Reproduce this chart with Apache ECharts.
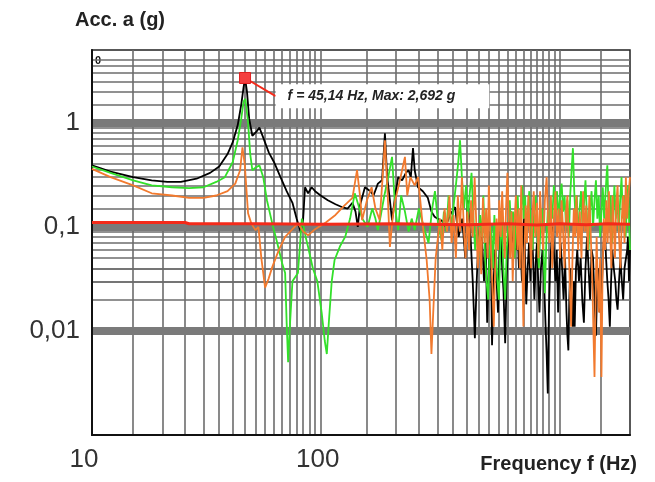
<!DOCTYPE html>
<html>
<head>
<meta charset="utf-8">
<script src="https://cdn.jsdelivr.net/npm/echarts@6/dist/echarts.min.js"></script>
<style>
    html, body { margin: 0; padding: 0; background: #fff; }
    #chart { width: 655px; height: 482px; }
</style>
</head>
<body>
<div id="chart"></div>
<script>
// [frequency Hz, acceleration g]
var blackData = [[10,0.39],[12,0.34],[15,0.3],[18,0.28],[21,0.27],[24,0.27],[28,0.29],[32,0.33],[35,0.38],[38,0.5],[40,0.65],[42,0.95],[43.5,1.5],[44.5,2.2],[45.14,2.69],[46,2.0],[47,1.1],[48.5,0.75],[50.5,0.82],[52,0.9],[54,0.72],[57,0.52],[60,0.42],[64,0.3],[68,0.22],[72,0.17],[75,0.12],[78,0.09],[80,0.12],[81.5,0.24],[84,0.21],[87,0.24],[90,0.22],[95,0.2],[102,0.18],[110,0.165],[117,0.155],[124,0.15],[130,0.17],[134,0.14],[137,0.1],[140,0.16],[147,0.24],[155,0.22],[160,0.2],[167,0.26],[174,0.28],[179,0.79],[183,0.3],[188,0.18],[192,0.115],[198,0.2],[204,0.3],[212,0.28],[220,0.33],[226,0.35],[231,0.3],[236,0.57],[240,0.35],[248,0.24],[260,0.22],[273,0.19],[283,0.14],[292,0.125],
    [300,0.12],[313,0.115],[325,0.1],[340,0.13],[357,0.155],[370,0.08],[383,0.12],[395,0.05],[405,0.18],[415,0.09],[425,0.03],[434,0.0085],[442,0.03],[450,0.08],[460,0.11],[468,0.06],[475,0.03],[483,0.07],[490,0.012],[498,0.04],[507,0.09],[514,0.0073],[522,0.03],[530,0.06],[538,0.03],[545,0.015],[553,0.05],[560,0.09],[568,0.04],[575,0.025],[585,0.0076],[593,0.03],[600,0.06],[610,0.1],[620,0.14],[630,0.07],[640,0.12],[650,0.06],[660,0.1],[670,0.04],[680,0.07],[690,0.03],[698,0.08],[705,0.12],[712,0.05],[720,0.018],[730,0.04],[740,0.07],[750,0.03],[760,0.1],[770,0.05],[780,0.02],[790,0.045],[800,0.07],[810,0.03],[820,0.015],[832,0.04],[845,0.06],[858,0.03],[870,0.012],[880,0.006],[890,0.0025],[900,0.015],[910,0.04],[922,0.07],[935,0.1],[948,0.05],[960,0.03],[972,0.06],[985,0.015],[998,0.04],[1010,0.07],[1025,0.04],[1040,0.02],[1055,0.05],[1070,0.015],[1080,0.009],[1090,0.0065],[1100,0.02],[1110,0.04],[1125,0.02],[1140,0.011],[1150,0.03],[1160,0.011],[1175,0.04],[1190,0.06],[1210,0.03],[1230,0.05],[1250,0.02],[1270,0.012],[1290,0.04],[1310,0.08],[1330,0.04],[1350,0.02],[1370,0.06],[1390,0.05],[1410,0.02],[1430,0.009],[1450,0.03],[1470,0.04],[1490,0.015],[1510,0.02],[1535,0.06],[1560,0.1],[1580,0.05],[1600,0.03],[1620,0.02],[1640,0.011],[1660,0.03],[1680,0.06],[1705,0.04],[1730,0.03],[1750,0.02],[1770,0.016],[1795,0.03],[1820,0.05],[1845,0.03],[1870,0.02],[1895,0.04],[1920,0.04],[1945,0.06],[1960,0.08],[1980,0.03],[2000,0.06]];

var greenData = [[10,0.38],[12,0.33],[15,0.28],[18,0.25],[22,0.24],[26,0.235],[30,0.24],[34,0.27],[37,0.3],[40,0.42],[42,0.68],[43.5,1.1],[44.5,1.6],[45.3,1.7],[46.5,1.0],[47.5,0.5],[48.5,0.35],[50,0.37],[52,0.39],[54,0.3],[56,0.18],[59,0.108],[62,0.07],[65,0.045],[67,0.036],[68,0.012],[69,0.005],[70,0.01],[72,0.03],[76,0.036],[78,0.08],[79,0.12],[82,0.08],[84,0.064],[88,0.04],[92,0.03],[96,0.015],[99,0.008],[101,0.006],[103,0.012],[106,0.03],[109,0.048],[115,0.065],[121,0.08],[127,0.12],[133,0.21],[138,0.16],[143,0.12],[151,0.1],[158,0.15],[163,0.12],[167,0.093],[172,0.13],[178,0.2],[185,0.3],[192,0.47],[198,0.15],[204,0.093],[210,0.2],[218,0.14],[226,0.09],[233,0.12],[240,0.093],[250,0.15],[262,0.1],[275,0.07],[285,0.15],[293,0.22],
    [303,0.1],[313,0.074],[320,0.14],[328,0.09],[335,0.2],[343,0.1],[352,0.16],[360,0.25],[368,0.4],[375,0.68],[382,0.3],[390,0.15],[398,0.25],[405,0.12],[412,0.2],[420,0.33],[428,0.12],[435,0.06],[442,0.1],[450,0.05],[457,0.13],[465,0.08],[472,0.2],[480,0.05],[487,0.03],[495,0.02],[502,0.06],[510,0.1],[518,0.04],[526,0.13],[534,0.06],[542,0.03],[550,0.02],[558,0.07],[566,0.12],[575,0.04],[585,0.02],[594,0.06],[603,0.1],[612,0.18],[622,0.08],[632,0.14],[642,0.05],[652,0.11],[662,0.2],[672,0.07],[682,0.14],[692,0.25],[702,0.12],[712,0.2],[722,0.08],[732,0.15],[742,0.22],[754,0.1],[766,0.06],[778,0.14],[790,0.2],[802,0.09],[815,0.04],[828,0.1],[842,0.15],[855,0.05],[865,0.023],[877,0.07],[890,0.14],[903,0.09],[916,0.18],[930,0.12],[945,0.25],[960,0.15],[975,0.22],[990,0.12],[1005,0.2],[1020,0.26],[1035,0.14],[1050,0.2],[1065,0.1],[1080,0.18],[1095,0.08],[1110,0.2],[1125,0.35],[1140,0.57],[1155,0.22],[1170,0.12],[1185,0.2],[1200,0.07],[1218,0.15],[1235,0.22],[1252,0.1],[1270,0.16],[1290,0.28],[1310,0.12],[1330,0.06],[1350,0.15],[1370,0.22],[1390,0.1],[1410,0.18],[1430,0.28],[1450,0.12],[1470,0.2],[1490,0.08],[1510,0.14],[1530,0.24],[1550,0.12],[1570,0.2],[1590,0.33],[1600,0.39],[1615,0.18],[1635,0.1],[1655,0.2],[1675,0.07],[1695,0.13],[1715,0.25],[1740,0.12],[1765,0.2],[1790,0.09],[1815,0.18],[1840,0.3],[1865,0.12],[1890,0.2],[1915,0.08],[1940,0.16],[1965,0.25],[1985,0.1],[2000,0.06]];

var orangeData = [[10,0.36],[12,0.3],[15,0.25],[18,0.21],[22,0.2],[26,0.19],[30,0.19],[34,0.2],[38,0.22],[41,0.26],[43,0.35],[44,0.58],[45,0.4],[46.5,0.135],[48,0.108],[50,0.093],[51.5,0.1],[53,0.05],[55,0.026],[57,0.032],[59,0.041],[63,0.06],[67,0.08],[72,0.095],[76,0.108],[80,0.09],[84,0.083],[90,0.095],[100,0.11],[110,0.13],[120,0.16],[130,0.19],[136,0.35],[140,0.2],[143,0.116],[150,0.18],[157,0.24],[163,0.15],[170,0.116],[175,0.3],[179,0.68],[184,0.2],[188,0.064],[193,0.12],[197,0.17],[205,0.25],[212,0.35],[218,0.47],[223,0.2],[230,0.3],[240,0.25],[248,0.3],[258,0.12],[270,0.048],[278,0.02],[283,0.006],[288,0.015],[295,0.05],
    [300,0.07],[308,0.12],[315,0.06],[322,0.15],[330,0.09],[338,0.2],[345,0.07],[352,0.13],[360,0.05],[367,0.2],[375,0.09],[382,0.3],[389,0.1],[396,0.05],[403,0.14],[410,0.06],[418,0.18],[425,0.08],[433,0.3],[440,0.11],[447,0.04],[455,0.1],[462,0.035],[470,0.19],[478,0.07],[485,0.15],[492,0.05],[498,0.25],[505,0.09],[512,0.04],[518,0.02],[523,0.011],[530,0.04],[537,0.12],[545,0.06],[552,0.18],[560,0.08],[568,0.22],[575,0.1],[583,0.05],[590,0.15],[598,0.33],[606,0.12],[614,0.05],[622,0.14],[630,0.03],[640,0.1],[650,0.2],[660,0.06],[668,0.15],[676,0.04],[685,0.25],[692,0.05],[700,0.011],[708,0.06],[716,0.16],[725,0.07],[735,0.2],[745,0.09],[755,0.04],[765,0.13],[775,0.22],[787,0.08],[800,0.17],[812,0.05],[825,0.22],[838,0.1],[850,0.06],[865,0.18],[880,0.3],[892,0.12],[905,0.07],[918,0.2],[930,0.04],[945,0.12],[960,0.22],[975,0.08],[990,0.15],[1005,0.05],[1020,0.18],[1035,0.09],[1050,0.04],[1065,0.14],[1080,0.2],[1095,0.06],[1110,0.02],[1120,0.011],[1135,0.05],[1150,0.15],[1165,0.08],[1180,0.2],[1200,0.06],[1220,0.14],[1240,0.05],[1260,0.22],[1280,0.09],[1300,0.16],[1320,0.06],[1340,0.2],[1360,0.08],[1380,0.03],[1395,0.01],[1410,0.0036],[1425,0.02],[1440,0.08],[1455,0.03],[1470,0.015],[1490,0.05],[1510,0.0036],[1525,0.03],[1545,0.12],[1565,0.06],[1585,0.18],[1605,0.07],[1625,0.22],[1645,0.09],[1665,0.04],[1685,0.2],[1705,0.1],[1725,0.05],[1745,0.16],[1770,0.25],[1795,0.08],[1820,0.04],[1845,0.12],[1870,0.2],[1895,0.07],[1920,0.3],[1945,0.12],[1970,0.2],[2000,0.3]];

var redData = [[10,0.11],[25,0.11],[26,0.107],[50,0.107],[100,0.106],[200,0.107],[400,0.105],[600,0.107],[800,0.104],[1000,0.107],[1300,0.105],[1600,0.107],[2000,0.106]];

var peak = [45.14, 2.692];
var peakText = 'f = 45,14 Hz, Max: 2,692 g';
var yTickLabels = { '1': '1', '0.1': '0,1', '0.01': '0,01' };
var xTickLabels = { '10': '10', '100': '100' };

// grid values (styling only)
function gridX() {
    var v = [];
    for (var f = 15; f < 100; f += 5) v.push(f);
    for (var g = 150; g < 1000; g += 50) v.push(g);
    v.push(1000, 1500);
    return v;
}
function gridY() {
    var v = [];
    var k = [1.5, 2, 2.5, 3, 3.5, 4, 5, 6, 7, 8, 9];
    [0.001, 0.01, 0.1, 1].forEach(function (d) {
        k.forEach(function (m) {
            var val = +(d * m).toPrecision(3);
            if (val < 5) v.push(val);
        });
    });
    return v;
}

var chart = echarts.init(document.getElementById('chart'), null, { renderer: 'canvas' });

var lineCol = '#6c6c6c';
var gridLines = [];
gridX().forEach(function (x) {
    gridLines.push({ xAxis: x, lineStyle: { color: lineCol, width: 1.6, type: 'solid' } });
});
gridY().forEach(function (y) {
    gridLines.push({ yAxis: y, lineStyle: { color: lineCol, width: 1.6, type: 'solid' } });
});
[1, 0.1, 0.01].forEach(function (y) {
    gridLines.push({ yAxis: y, lineStyle: { color: '#7a7a7a', width: 8, type: 'solid' } });
});
gridLines.push({ yAxis: 0.005, lineStyle: { color: '#7a7a7a', width: 3, type: 'solid' } });

var option = {
    animation: false,
    grid: { left: 92, right: 25, top: 50, bottom: 47, show: true, borderColor: '#222', borderWidth: 1.5 },
    xAxis: {
        type: 'log', min: 10, max: 2000, logBase: 10,
        axisLine: { show: true, lineStyle: { color: '#111', width: 2 } },
        axisTick: { show: false },
        splitLine: { show: false },
        axisLabel: {
            fontFamily: 'Liberation Sans, Arial', fontSize: 26, color: '#333', margin: 12,
            padding: [0, 16, 0, 0],
            formatter: function (v) { return xTickLabels[String(v)] || ''; }
        }
    },
    yAxis: {
        type: 'log', min: 0.001, max: 5, logBase: 10,
        axisLine: { show: true, lineStyle: { color: '#111', width: 2 } },
        axisTick: { show: false },
        splitLine: { show: false },
        axisLabel: {
            fontFamily: 'Liberation Sans, Arial', fontSize: 26, color: '#333', margin: 12,
            formatter: function (v) { return yTickLabels[String(+v.toPrecision(3))] || ''; }
        }
    },
    graphic: [
        { type: 'text', left: 75, top: 10, style: { text: 'Acc. a (g)', font: 'bold 20px "Liberation Sans", Arial', fill: '#222' } },
        { type: 'text', right: 18, top: 454, style: { text: 'Frequency f (Hz)', font: 'bold 20px "Liberation Sans", Arial', fill: '#222' } },
        { type: 'text', left: 95, top: 55, style: { text: '0', font: 'bold 11px "Liberation Sans", Arial', fill: '#111' } }
    ],
    series: [
        {
            type: 'line', data: [], silent: true, z: 0,
            markLine: { silent: true, symbol: 'none', label: { show: false }, animation: false, z: 0, data: gridLines }
        },
        {
            name: 'black', type: 'line', data: blackData, showSymbol: false, z: 3,
            lineStyle: { color: '#000', width: 1.8 }, itemStyle: { color: '#000' }
        },
        {
            name: 'green', type: 'line', data: greenData, showSymbol: false, z: 4,
            lineStyle: { color: '#33e02a', width: 1.8 }, itemStyle: { color: '#33e02a' }
        },
        {
            name: 'orange', type: 'line', data: orangeData, showSymbol: false, z: 5,
            lineStyle: { color: '#f27a2e', width: 1.8 }, itemStyle: { color: '#f27a2e' }
        },
        {
            name: 'red', type: 'line', data: redData, showSymbol: false, z: 6,
            lineStyle: { color: '#f42a1a', width: 3 }, itemStyle: { color: '#f42a1a' },
            markLine: {
                silent: true, symbol: 'none', label: { show: false },
                lineStyle: { color: '#f42a1a', width: 2, type: 'solid' },
                data: [[{ coord: peak }, { coord: [61, 1.8] }]]
            },
            markPoint: {
                silent: true,
                data: [
                    {
                        coord: peak, symbol: 'rect', symbolSize: 11,
                        itemStyle: { color: '#f44040', borderColor: '#e02020', borderWidth: 1 },
                        label: { show: false }
                    },
                    {
                        coord: [61, 1.8], symbol: 'rect', symbolSize: 0,
                        label: {
                            show: true, position: 'right', distance: 0,
                            formatter: peakText,
                            fontFamily: 'Liberation Sans, Arial', fontSize: 14, fontStyle: 'italic', fontWeight: 'bold',
                            color: '#222', backgroundColor: '#fff', padding: [5, 34, 5, 12]
                        }
                    }
                ]
            }
        }
    ]
};
option && chart.setOption(option);
</script>
</body>
</html>
